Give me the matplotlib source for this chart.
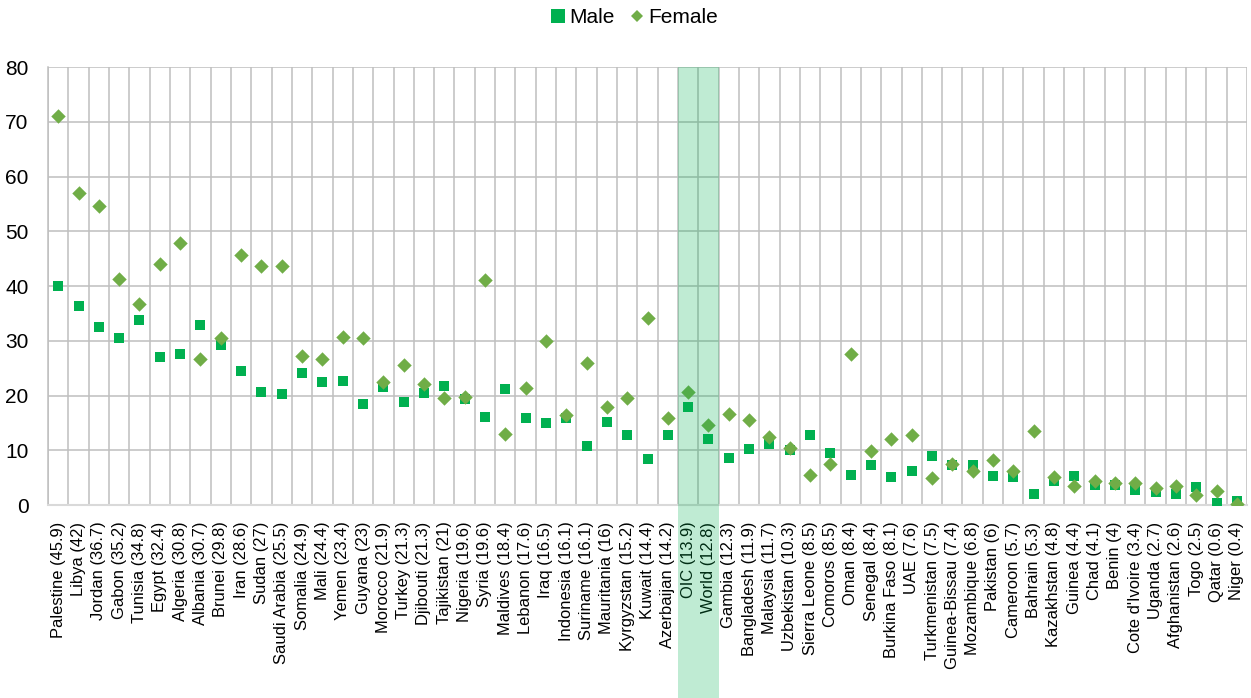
import numpy as np
import matplotlib
matplotlib.use("Agg")
import matplotlib.pyplot as plt
import matplotlib.transforms as mtransforms
from matplotlib.patches import Rectangle
from matplotlib.lines import Line2D

plt.rcParams['font.family'] = ['Liberation Sans', 'DejaVu Sans']

# Data
countries = ["Palestine (45.9)", "Libya (42)", "Jordan (36.7)", "Gabon (35.2)", "Tunisia (34.8)",
             "Egypt (32.4)", "Algeria (30.8)", "Albania (30.7)", "Brunei (29.8)", "Iran (28.6)",
             "Sudan (27)", "Saudi Arabia (25.5)", "Somalia (24.9)", "Mali (24.4)", "Yemen (23.4)",
             "Guyana (23)", "Morocco (21.9)", "Turkey (21.3)", "Djibouti (21.3)", "Tajikistan (21)",
             "Nigeria (19.6)", "Syria (19.6)", "Maldives (18.4)", "Lebanon (17.6)", "Iraq (16.5)",
             "Indonesia (16.1)", "Suriname (16.1)", "Mauritania (16)", "Kyrgyzstan (15.2)", "Kuwait (14.4)",
             "Azerbaijan (14.2)", "OIC (13.9)", "World (12.8)", "Gambia (12.3)", "Bangladesh (11.9)",
             "Malaysia (11.7)", "Uzbekistan (10.3)", "Sierra Leone (8.5)", "Comoros (8.5)", "Oman (8.4)",
             "Senegal (8.4)", "Burkina Faso (8.1)", "UAE (7.6)", "Turkmenistan (7.5)", "Guinea-Bissau (7.4)",
             "Mozambique (6.8)", "Pakistan (6)", "Cameroon (5.7)", "Bahrain (5.3)", "Kazakhstan (4.8)",
             "Guinea (4.4)", "Chad (4.1)", "Benin (4)", "Cote d'Ivoire (3.4)", "Uganda (2.7)",
             "Afghanistan (2.6)", "Togo (2.5)", "Qatar (0.6)", "Niger (0.4)"]

male = [40.0, 36.4, 32.5, 30.5, 33.8, 27.1, 27.5, 32.9, 29.3, 24.5,
        20.7, 20.3, 24.2, 22.5, 22.7, 18.5, 21.6, 18.8, 20.5, 21.8,
        19.4, 16.1, 21.2, 15.9, 15.0, 15.9, 10.8, 15.1, 12.8, 8.4,
        12.8, 17.9, 12.1, 8.6, 10.2, 11.1, 10.1, 12.8, 9.5, 5.5,
        7.3, 5.1, 6.2, 9.0, 7.3, 7.3, 5.3, 5.1, 2.0, 4.3,
        5.3, 3.7, 3.7, 2.7, 2.3, 2.1, 3.2, 0.3, 0.7]

female = [71.0, 56.9, 54.6, 41.3, 36.7, 44.1, 47.9, 26.6, 30.5, 45.7,
          43.6, 43.6, 27.2, 26.7, 30.7, 30.5, 22.4, 25.6, 22.1, 19.5,
          19.7, 41.1, 13.0, 21.3, 30.0, 16.5, 25.9, 17.9, 19.5, 34.1,
          15.8, 20.6, 14.6, 16.6, 15.5, 12.4, 10.5, 5.4, 7.4, 27.6,
          9.8, 12.0, 12.7, 4.9, 7.5, 6.2, 8.2, 6.2, 13.5, 5.2,
          3.4, 4.4, 4.1, 4.1, 3.1, 3.5, 1.8, 2.6, 0.1]

highlight = ["OIC (13.9)", "World (12.8)"]

male_color = "#00B050"
female_color = "#70AD47"
grid_color = "#BFBFBF"

x = np.arange(len(countries))

fig = plt.figure(figsize=(12.51, 6.98), dpi=100)
ax = fig.add_axes([0.0384, 0.2765, 0.9584, 0.6275])

ax.scatter(x, male, marker="s", s=62, color=male_color, linewidths=0, zorder=3)
ax.scatter(x, female, marker="D", s=54, color=female_color, linewidths=0, zorder=4)

# Axes limits and ticks
ax.set_xlim(-0.5, len(countries) - 0.5)
ax.set_ylim(0, 80)
ax.set_yticks(np.arange(0, 81, 10))
ax.set_xticks(x)
ax.set_xticklabels(countries, rotation=90, fontsize=11.9)
ax.set_xticks(np.arange(-0.5, len(countries)), minor=True)
ax.tick_params(axis="x", which="both", length=0, pad=12)
ax.tick_params(axis="y", length=0, pad=14, labelsize=15)

# Grid
ax.grid(axis="y", which="major", color=grid_color, linewidth=1.1)
ax.grid(axis="x", which="minor", color=grid_color, linewidth=1.1)
ax.set_axisbelow(True)
for side in ["top", "right"]:
    ax.spines[side].set_visible(False)
ax.spines["left"].set_color(grid_color)
ax.spines["left"].set_linewidth(1.1)
ax.spines["bottom"].set_color("#D9D9D9")
ax.spines["bottom"].set_linewidth(1.5)

# Highlight band over OIC and World, down through the labels
i0 = countries.index(highlight[0])
i1 = countries.index(highlight[-1])
blend = mtransforms.blended_transform_factory(ax.transData, fig.transFigure)
ax_top = 0.2765 + 0.6275
band = Rectangle((i0 - 0.5, 0), i1 - i0 + 1, ax_top, transform=blend,
                 facecolor=male_color, alpha=0.25, linewidth=0, zorder=10)
fig.add_artist(band)

# Legend
handles = [Line2D([], [], linestyle="none", marker="s", markersize=9.5,
                  markerfacecolor=male_color, markeredgewidth=0),
           Line2D([], [], linestyle="none", marker="D", markersize=6.5,
                  markerfacecolor=female_color, markeredgewidth=0)]
fig.legend(handles, ["Male", "Female"], loc="center", bbox_to_anchor=(0.507, 0.975),
           ncol=2, frameon=False, fontsize=15, handlelength=0.7, handletextpad=0.2,
           columnspacing=0.7, borderaxespad=0)

fig.savefig("out.png", dpi=100)
